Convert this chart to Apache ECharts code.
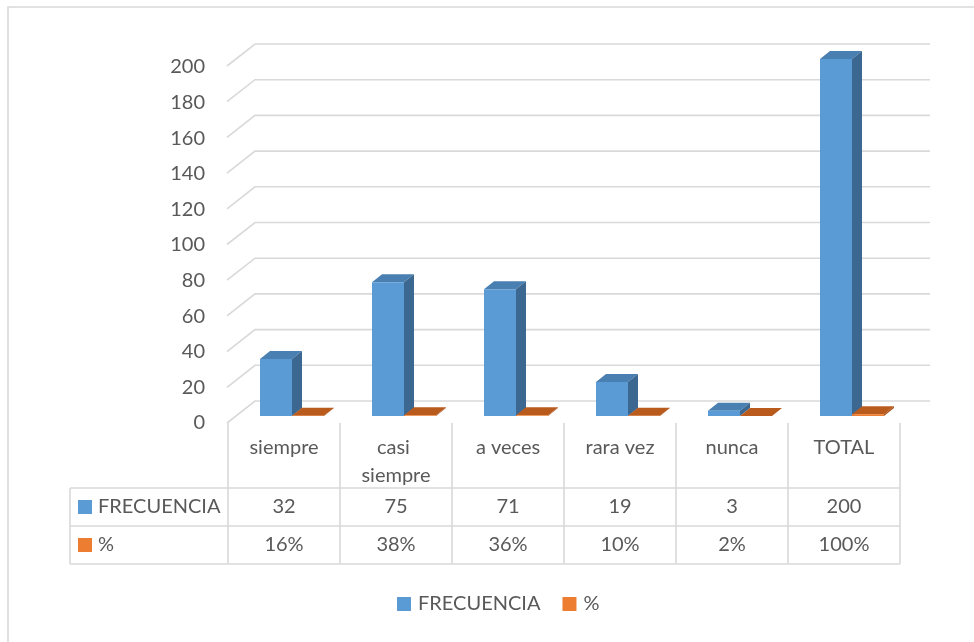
<!DOCTYPE html>
<html>
<head>
<meta charset="utf-8">
<style>
  html, body { margin: 0; padding: 0; background: #ffffff; }
  #chart { width: 974px; height: 642px; }
</style>
<script src="https://cdn.jsdelivr.net/npm/echarts@6/dist/echarts.min.js"></script>
</head>
<body>
<div id="chart"></div>
<script>
// Survey answers: frequency of each response and its share of the total
const categories = ['siempre', 'casi siempre', 'a veces', 'rara vez', 'nunca', 'TOTAL'];
const frecuencia = [32, 75, 71, 19, 3, 200];
const porcentaje = [0.16, 0.38, 0.36, 0.10, 0.02, 1.00];
const yTicks = [0, 20, 40, 60, 80, 100, 120, 140, 160, 180, 200];
const seriesNames = ['FRECUENCIA', '%'];

const TEXT = '#595959';
const LINE = '#d9d9d9';
const FONT = 'Lato, "Open Sans", sans-serif';

const palette = {
  blue:   { front: '#5B9BD5', top: '#4A7FB2', side: '#3B6790' },
  orange: { front: '#ED7D31', top: '#BA5B1E', side: '#A9521B' }
};

// Bar depth in pixels (oblique projection)
const BAR_DX = 10, BAR_DY = 8;
const BAR_W = 32;

function boxRenderer(colors, offset) {
  return function (params, api) {
    const cat = api.value(0);
    const v = api.value(1);
    const top = api.coord([cat, v]);
    const base = api.coord([cat, 0]);
    const x0 = top[0] + offset;
    const yt = top[1];
    const yb = base[1];
    return {
      type: 'group',
      children: [
        { type: 'polygon', shape: { points: [[x0, yt], [x0 + BAR_DX, yt - BAR_DY], [x0 + BAR_W + BAR_DX, yt - BAR_DY], [x0 + BAR_W, yt]] },
          style: { fill: colors.top } },
        { type: 'polygon', shape: { points: [[x0 + BAR_W, yt], [x0 + BAR_W + BAR_DX, yt - BAR_DY], [x0 + BAR_W + BAR_DX, yb - BAR_DY], [x0 + BAR_W, yb]] },
          style: { fill: colors.side } },
        { type: 'rect', shape: { x: x0, y: yt, width: BAR_W, height: Math.max(yb - yt, 0) },
          style: { fill: colors.front } }
      ]
    };
  };
}

// Perspective gridlines: short slanted segment along the side wall, then flat along the back wall
function gridRenderer(params, api) {
  const cs = params.coordSys;
  const y = api.coord([0, api.value(0)])[1];
  const xFront = cs.x - 9;
  const xBack = cs.x + 19;
  const xEnd = cs.x + cs.width + 22;
  return {
    type: 'polyline',
    shape: { points: [[xFront, y + 7], [xBack, y - 15], [xEnd, y - 15]] },
    style: { stroke: LINE, lineWidth: 1.6, fill: null },
    silent: true
  };
}

// Data table under the plot
const colLeft = 228, colW = 112, tableLeft = 70;
const rowTop = 488, rowMid = 526, rowBottom = 564, headTop = 423;
const tableGraphics = [];
function line(x1, y1, x2, y2) {
  tableGraphics.push({ type: 'line', shape: { x1, y1, x2, y2 }, style: { stroke: LINE, lineWidth: 1.6 }, silent: true });
}
function text(x, y, str, align, extra) {
  tableGraphics.push({ type: 'text', x, y, style: Object.assign({
    text: str, fill: TEXT, font: '20px ' + FONT, align: align || 'center', verticalAlign: 'middle'
  }, extra || {}), silent: true });
}
const tableRight = colLeft + colW * categories.length;
for (let i = 0; i <= categories.length; i++) {
  line(colLeft + i * colW, headTop, colLeft + i * colW, rowBottom);
}
line(tableLeft, rowTop, tableLeft, rowBottom);
[rowTop, rowMid, rowBottom].forEach(y => line(tableLeft, y, tableRight, y));
categories.forEach((c, i) => {
  const cx = colLeft + i * colW + colW / 2;
  tableGraphics.push({ type: 'text', x: cx, y: 434, style: {
    text: c, fill: TEXT, font: '20px ' + FONT, align: 'center', verticalAlign: 'top',
    width: 96, overflow: 'break', lineHeight: 28
  }, silent: true });
  text(cx, 507, String(frecuencia[i]));
  text(cx, 545, Math.round(porcentaje[i] * 100) + '%');
});
tableGraphics.push({ type: 'rect', shape: { x: 78, y: 500, width: 14, height: 14 }, style: { fill: palette.blue.front }, silent: true });
text(98, 507, seriesNames[0], 'left');
tableGraphics.push({ type: 'rect', shape: { x: 78, y: 538, width: 14, height: 14 }, style: { fill: palette.orange.front }, silent: true });
text(98, 545, seriesNames[1], 'left');
// chart area frame
tableGraphics.push({ type: 'polyline', shape: { points: [[8, 660], [8, 7], [990, 7]] }, style: { stroke: LINE, lineWidth: 1.6, fill: null }, silent: true });

const chart = echarts.init(document.getElementById('chart'), null, { renderer: 'canvas' });
chart.setOption({
  backgroundColor: '#ffffff',
  animation: false,
  textStyle: { fontFamily: FONT },
  grid: [
    { left: 236, right: 66, top: 59, bottom: 226, containLabel: false },
    { left: 227, width: 2, top: 67, bottom: 219, containLabel: false }
  ],
  xAxis: [
    { type: 'category', data: categories, gridIndex: 0, show: false, boundaryGap: true },
    { type: 'value', gridIndex: 1, show: false }
  ],
  yAxis: [
    { type: 'value', gridIndex: 0, min: 0, max: 200, interval: 20, show: false },
    { type: 'value', gridIndex: 1, min: 0, max: 200, interval: 20,
      axisLine: { show: false }, axisTick: { show: false }, splitLine: { show: false },
      axisLabel: { margin: 22, fontSize: 20, color: TEXT, fontFamily: FONT,
        formatter: v => (yTicks.indexOf(v) >= 0 ? String(v) : '') } }
  ],
  legend: {
    data: seriesNames,
    icon: 'rect', itemWidth: 14, itemHeight: 14, itemGap: 22,
    left: 397, top: 594, padding: 0,
    textStyle: { fontSize: 20, color: TEXT, fontFamily: FONT, padding: [0, 0, 0, 2] }
  },
  graphic: tableGraphics,
  series: [
    { type: 'custom', name: 'grid', xAxisIndex: 0, yAxisIndex: 0, z: 1,
      data: yTicks.map(v => [v]), renderItem: gridRenderer, silent: true },
    { type: 'custom', name: seriesNames[0], xAxisIndex: 0, yAxisIndex: 0, z: 3,
      itemStyle: { color: palette.blue.front },
      data: frecuencia.map((v, i) => [i, v]), encode: { x: 0, y: 1 },
      renderItem: boxRenderer(palette.blue, -BAR_W) },
    { type: 'custom', name: seriesNames[1], xAxisIndex: 0, yAxisIndex: 0, z: 4,
      itemStyle: { color: palette.orange.front },
      data: porcentaje.map((v, i) => [i, v]), encode: { x: 0, y: 1 },
      renderItem: boxRenderer(palette.orange, 0) }
  ]
});
</script>
</body>
</html>
